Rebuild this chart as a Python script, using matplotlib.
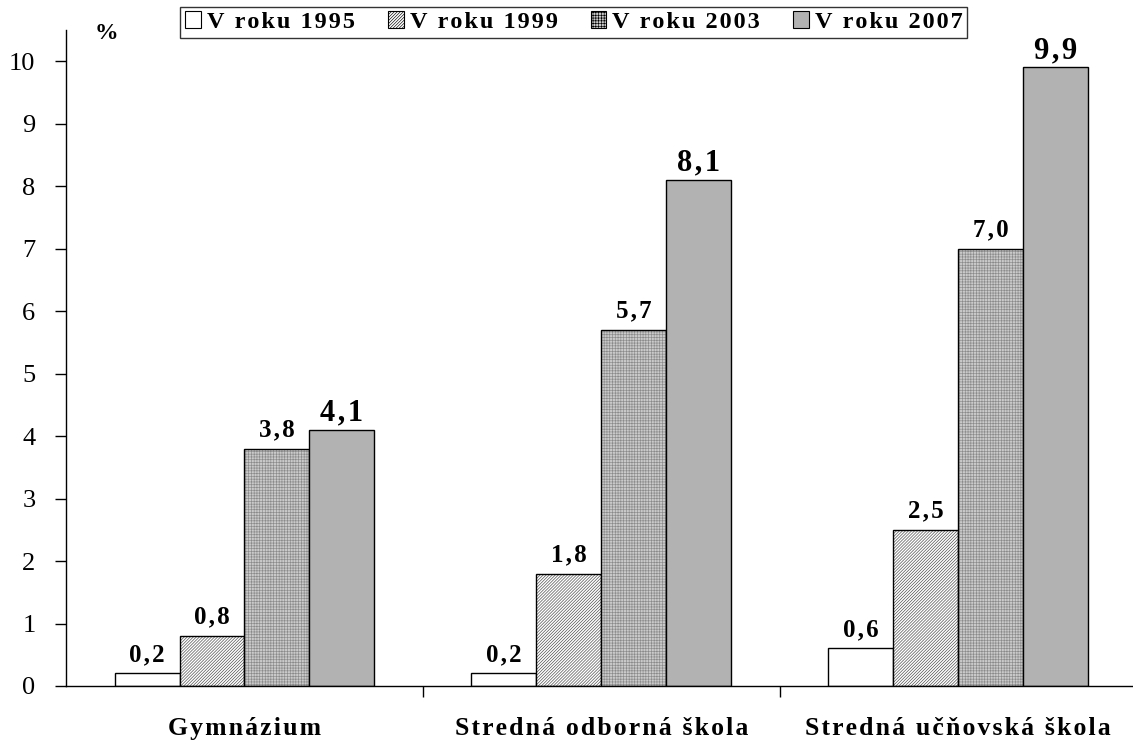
import matplotlib
matplotlib.use("Agg")
import matplotlib.pyplot as plt
from matplotlib.patches import Patch
import numpy as np

plt.rcParams['font.family'] = ['Liberation Serif', 'DejaVu Serif']
plt.rcParams['hatch.linewidth'] = 0.45

# data
categories = ['Gymnázium', 'Stredná odborná škola', 'Stredná učňovská škola']
series = ['V roku 1995', 'V roku 1999', 'V roku 2003', 'V roku 2007']
values_1995 = [0.2, 0.2, 0.6]
values_1999 = [0.8, 1.8, 2.5]
values_2003 = [3.8, 5.7, 7.0]
values_2007 = [4.1, 8.1, 9.9]
all_values = [values_1995, values_1999, values_2003, values_2007]

faces = ['white', 'white', '#cacaca', '#b2b2b2']
hatches = [None, '/' * 11, '+' * 6, None]
hatch_cols = ['black', '#444444', '#8a8a8a', 'black']


def spaced(s):
    # the original uses wide letter spacing
    return '\u200a'.join(s)


fig = plt.figure(figsize=(11.33, 7.4), dpi=100)
ax = fig.add_axes([0.0583, 0.073, 0.9417, 0.8865])

x = np.arange(len(categories))
w = 0.182
for i, vals in enumerate(all_values):
    pos = x + (i - 1.5) * w
    ax.bar(pos, vals, width=w, color=faces[i], edgecolor=hatch_cols[i],
           linewidth=0, hatch=hatches[i])
    ax.bar(pos, vals, width=w, fill=False, edgecolor='black', linewidth=1.0)
    for p, v in zip(pos, vals):
        txt = spaced(f'{v:.1f}'.replace('.', ','))
        if i == 3:
            ax.text(p, v + 0.04, txt, ha='center', va='bottom',
                    fontsize=22, fontweight='bold')
        else:
            ax.text(p, v + 0.12, txt, ha='center', va='bottom',
                    fontsize=18, fontweight='bold')

ax.set_xlim(-0.5, 2.49)
ax.set_ylim(0, 10.5)
ax.set_yticks(range(0, 11))
ax.tick_params(axis='y', labelsize=19, length=8, width=1, direction='out', pad=14)
ax.set_xticks(x)
ax.set_xticklabels([spaced(c) for c in categories], fontsize=18.5, fontweight='bold')
ax.set_xticks([0.5, 1.5], minor=True)
ax.tick_params(axis='x', which='major', length=0, pad=22)
ax.tick_params(axis='x', which='minor', length=8, width=1, direction='out')
for s in ['top', 'right']:
    ax.spines[s].set_visible(False)
ax.spines['left'].set_linewidth(1)
ax.spines['bottom'].set_linewidth(1)

fig.text(0.094, 0.955, '%', fontsize=17, fontweight='bold', ha='center', va='center')

handles = [Patch(facecolor=faces[i], edgecolor='black', hatch=hatches[i], linewidth=0.8)
           for i in range(4)]
leg = fig.legend(handles, [spaced(s) for s in series], loc='center',
                 bbox_to_anchor=(0.5065, 0.97), ncol=4,
                 frameon=True, fancybox=False, edgecolor='black',
                 prop={'size': 17.5, 'weight': 'bold'},
                 handlelength=0.65, handleheight=0.65, handletextpad=0.25,
                 columnspacing=1.35, borderpad=0.2, borderaxespad=0)
leg.get_frame().set_linewidth(1)

fig.savefig('out.png', dpi=100)
